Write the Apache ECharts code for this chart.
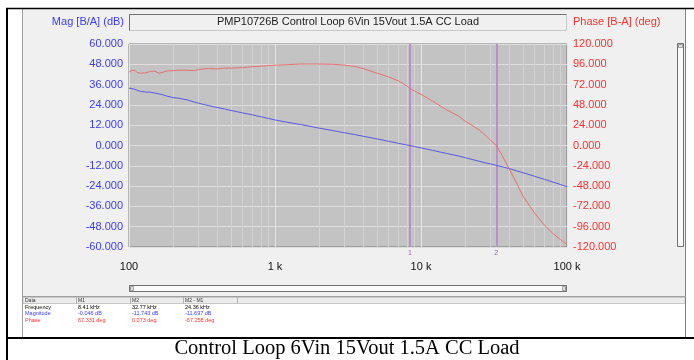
<!DOCTYPE html>
<html><head><meta charset="utf-8">
<script src="https://cdn.jsdelivr.net/npm/echarts@6/dist/echarts.min.js"></script>
<style>html,body{margin:0;padding:0;background:#fff}#c{width:694px;height:360px}</style>
</head><body><div id="c"></div>
<script>
const freq = [100,105,110,115,120,130,140,150,160,170,180,200,220,250,280,300,350,400,450,500,600,700,800,900,1000,1200,1500,2000,2500,3000,3500,4000,5000,6000,7000,8000,8410,9000,10000,12000,15000,18000,20000,22000,25000,28000,30000,32770,36000,40000,45000,50000,60000,70000,80000,90000,100000];
const magDb = [33.9,33.6,33.2,32.5,32.0,31.6,31.5,31.0,30.5,30.0,29.3,28.3,27.9,27.0,25.7,25.0,23.6,22.5,21.6,20.7,19.3,18.1,17.0,16.0,15.1,13.8,12.4,10.3,8.8,7.5,6.5,5.5,3.9,2.5,1.3,0.3,-0.05,-0.6,-1.4,-2.9,-4.7,-6.2,-7.2,-8.1,-9.3,-10.4,-10.9,-11.74,-12.6,-13.6,-14.9,-16.1,-18.2,-20.0,-21.6,-23.0,-24.4];
const phaseDeg = [86.8,89.0,88.5,86.0,85.5,86.0,87.5,88.0,85.5,86.5,88.0,88.5,89.0,89.0,88.5,90.0,91.0,90.5,91.5,91.5,92.0,93.2,93.8,94.5,95.0,95.5,96.3,96.3,96.0,95.0,93.5,91.0,85.5,81.0,76.5,70.5,67.33,64.5,60.5,52.5,42,35,29,24.5,18.5,11,6,0.07,-12,-27,-44,-60,-80,-94,-104,-111,-117];
const xTickLabels = {100:'100',1000:'1 k',10000:'10 k',100000:'100 k'};
const minorFreqs = [200,300,400,500,600,700,800,900,2000,3000,4000,5000,6000,7000,8000,9000,20000,30000,40000,50000,60000,70000,80000,90000];
const markers = [{name:'1',freq:8410},{name:'2',freq:32770}];
const titleText = 'PMP10726B Control Loop 6Vin 15Vout 1.5A CC Load';
const captionText = 'Control Loop 6Vin 15Vout 1.5A CC Load';
const tableHeader = ['Data','M1','M2','M2 - M1'];
const tableRows = [
  ['Frequency','8.41 kHz','32.77 kHz','24.36 kHz'],
  ['Magnitude','-0.046 dB','-11.743 dB','-11.697 dB'],
  ['Phase','67.331 deg','0.073 deg','-67.258 deg']
];
const BLUE='#3a3aff', RED='#ff3030';
const rowColors=['#000',BLUE,RED];

const magData = freq.map((f,i)=>[f,magDb[i]]);
const phData = freq.map((f,i)=>[f,phaseDeg[i]]);

const g = [];
g.push({type:'rect',z:-100,shape:{x:22,y:9,width:664,height:288},style:{fill:'#f0f0f0'}});
g.push({type:'rect',z:-100,shape:{x:22,y:298,width:664,height:39},style:{fill:'#fff'}});
g.push({type:'line',z:50,shape:{x1:22.5,y1:9,x2:22.5,y2:337},style:{stroke:'#a0a0a0',lineWidth:1}});
g.push({type:'line',z:50,shape:{x1:685.5,y1:9,x2:685.5,y2:337},style:{stroke:'#808080',lineWidth:1}});
g.push({type:'line',z:50,shape:{x1:22,y1:296.5,x2:686,y2:296.5},style:{stroke:'#a0a0a0',lineWidth:1}});
g.push({type:'line',z:50,shape:{x1:6,y1:8.5,x2:694,y2:8.5},style:{stroke:'#000',lineWidth:1.5}});
g.push({type:'line',z:50,shape:{x1:7,y1:8,x2:7,y2:360},style:{stroke:'#000',lineWidth:2}});
g.push({type:'line',z:50,shape:{x1:6,y1:338,x2:694,y2:338},style:{stroke:'#000',lineWidth:2}});
g.push({type:'rect',z:10,shape:{x:129.5,y:14.5,width:437,height:16},style:{fill:'#f0f0f0',stroke:'#c8c8c8',lineWidth:1}});
g.push({type:'polyline',z:11,shape:{points:[[129.5,30.5],[129.5,14.5],[566.5,14.5]]},style:{stroke:'#707070',fill:null,lineWidth:1}});
g.push({type:'text',z:12,x:348,y:22,style:{text:titleText,fill:'#222',font:'11px "Liberation Sans", Arial',textAlign:'center',textVerticalAlign:'middle'}});
g.push({type:'text',z:12,x:124,y:22,style:{text:'Mag [B/A] (dB)',fill:BLUE,font:'11px "Liberation Sans", Arial',textAlign:'right',textVerticalAlign:'middle'}});
g.push({type:'text',z:12,x:573,y:22,style:{text:'Phase [B-A] (deg)',fill:RED,font:'11px "Liberation Sans", Arial',textAlign:'left',textVerticalAlign:'middle'}});
g.push({type:'rect',z:10,shape:{x:129.5,y:285.5,width:437,height:6},style:{fill:'#fafafa',stroke:'#707070',lineWidth:1}});
g.push({type:'rect',z:11,shape:{x:130.5,y:286.5,width:3,height:4},style:{fill:'#e0e0e0',stroke:'#a0a0a0',lineWidth:1}});
g.push({type:'rect',z:11,shape:{x:562.5,y:286.5,width:3,height:4},style:{fill:'#e0e0e0',stroke:'#a0a0a0',lineWidth:1}});
g.push({type:'rect',z:10,shape:{x:677.5,y:43.5,width:6,height:203},style:{fill:'#fafafa',stroke:'#707070',lineWidth:1}});
g.push({type:'rect',z:11,shape:{x:678.5,y:44.5,width:4,height:3},style:{fill:'#e0e0e0',stroke:'#a0a0a0',lineWidth:1}});
const colX=[25,78,132,185];
const sepX=[76.5,130.5,183.5,237.5];
g.push({type:'rect',z:10,shape:{x:23,y:297.5,width:662,height:6},style:{fill:'#ececec',stroke:'#c8c8c8',lineWidth:1}});
sepX.forEach(x=>g.push({type:'line',z:11,shape:{x1:x,y1:297.5,x2:x,y2:303.5},style:{stroke:'#b0b0b0',lineWidth:1}}));
tableHeader.forEach((t,i)=>g.push({type:'text',z:12,x:colX[i],y:300.5,style:{text:t,fill:'#333',font:'5px "Liberation Sans", Arial',textVerticalAlign:'middle'}}));
tableRows.forEach((row,r)=>row.forEach((t,i)=>g.push({type:'text',z:12,x:colX[i],y:307.5+r*6.3,style:{text:t,fill:rowColors[r],font:'5.5px "Liberation Sans", Arial',textVerticalAlign:'middle'}})));
g.push({type:'text',z:12,x:347,y:349,style:{text:captionText,fill:'#000',font:'20.5px "Liberation Serif", "Times New Roman", serif',textAlign:'center',textVerticalAlign:'middle'}});

const option = {
  animation:false,
  backgroundColor:'transparent',
  grid:{left:129,top:44,width:438,height:203,show:true,backgroundColor:'#c3c3c3',borderColor:'#7a7a7a',borderWidth:1,containLabel:false},
  xAxis:{type:'log',logBase:10,min:100,max:100000,
    axisLine:{show:false},axisTick:{show:false},
    axisLabel:{formatter:v=>xTickLabels[Math.round(v)]||'',color:'#111',fontSize:11,fontFamily:'Liberation Sans',margin:14},
    splitLine:{show:true,lineStyle:{color:'#e6e6e6',width:1}}},
  yAxis:[
    {type:'value',min:-60,max:60,interval:12,position:'left',
     axisLine:{show:false},axisTick:{show:false},
     axisLabel:{formatter:v=>v.toFixed(3),color:BLUE,fontSize:11,fontFamily:'Liberation Sans',margin:6},
     splitLine:{show:true,lineStyle:{color:'#dedede',width:1}}},
    {type:'value',min:-120,max:120,interval:24,position:'right',
     axisLine:{show:false},axisTick:{show:false},
     axisLabel:{formatter:v=>v.toFixed(3),color:RED,fontSize:11,fontFamily:'Liberation Sans',margin:6},
     splitLine:{show:false}}
  ],
  graphic:g,
  series:[
    {type:'line',name:'grid-minor',data:[],xAxisIndex:0,yAxisIndex:0,silent:true,
     markLine:{silent:true,symbol:'none',label:{show:false},animation:false,
       lineStyle:{color:'#d2d2d2',width:1,type:'solid'},
       data:minorFreqs.map(f=>({xAxis:f}))}},
    {type:'line',name:'markers',data:[],xAxisIndex:0,yAxisIndex:0,silent:true,
     markLine:{silent:true,symbol:'none',animation:false,
       lineStyle:{color:'#bb8fcc',width:2,type:'solid'},
       label:{show:true,position:'start',formatter:p=>p.name,color:'#a060b8',fontSize:7,distance:3},
       data:markers.map(m=>({xAxis:m.freq,name:m.name}))}},
    {type:'line',name:'Magnitude',data:magData,yAxisIndex:0,showSymbol:false,
     lineStyle:{color:'#5858e8',width:1},z:5},
    {type:'line',name:'Phase',data:phData,yAxisIndex:1,showSymbol:false,
     lineStyle:{color:'#e87070',width:1},z:5}
  ]
};
const chart = echarts.init(document.getElementById('c'));
chart.setOption(option);
</script></body></html>
